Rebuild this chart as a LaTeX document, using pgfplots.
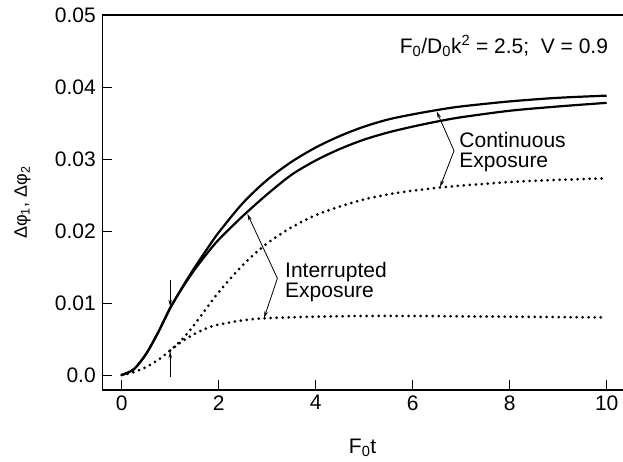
\documentclass[border=0pt]{standalone}
\usepackage{fontspec}
\setmainfont{Liberation Sans}
\usepackage{pgfplots}
\pgfplotsset{compat=1.18}
\usetikzlibrary{arrows.meta}
\begin{document}
\begin{tikzpicture}
\begin{axis}[
  at={(0,0)}, anchor=south west,
  scale only axis, width=520.7pt, height=375pt,
  xmin=-0.4, xmax=10.336, ymin=-0.00208, ymax=0.05,
  axis x line*=box, axis y line*=left,
  axis line style={line width=1.2pt,-},
  xtick={0,2,4,6,8,10},
  ytick={0,0.01,0.02,0.03,0.04,0.05},
  yticklabels={0.0,0.01,0.02,0.03,0.04,0.05},
  scaled y ticks=false,
  xtick pos=bottom, ytick pos=left,
  tick align=inside,
  major tick length=10pt,
  tick style={line width=1pt, black},
  ticklabel style={font=\fontsize{21}{24}\selectfont},
  yticklabel style={xshift=-3pt},
  xticklabel style={yshift=-2pt},
  /pgf/number format/assume math mode=true,
  xlabel={F\textsubscript{0}t},
  ylabel={Δφ\textsubscript{1}, Δφ\textsubscript{2}},
  xlabel style={at={(axis description cs:0.5,-0.168)}, anchor=base, font=\fontsize{21}{25}\selectfont},
  ylabel style={at={(axis description cs:-0.153,0.5)}, anchor=center, font=\fontsize{18}{22}\selectfont},
  clip=false,
]
% continuous exposure, solid
\addplot[black, line width=2.2pt, smooth, tension=0.5] coordinates {
(0,0) (0.25,0.0008) (0.5,0.0029) (0.75,0.0059) (1.0,0.0093) (1.25,0.0122) (1.5,0.0149) (1.75,0.0174) (2.0,0.0198) (2.5,0.0239) (3.0,0.0271) (3.5,0.0296) (4.0,0.0316) (4.5,0.0332) (5.0,0.0345) (5.5,0.0355) (6.0,0.0362) (6.5,0.0368) (7.0,0.0373) (8.0,0.0380) (9.0,0.0385) (10.0,0.0388)};
% interrupted exposure, solid
\addplot[black, line width=2.2pt, smooth, tension=0.5] coordinates {
(0,0) (0.25,0.0008) (0.5,0.0029) (0.75,0.0059) (1.0,0.0093) (1.25,0.0121) (1.5,0.0146) (1.75,0.0168) (2.0,0.0188) (2.5,0.0221) (3.0,0.0251) (3.5,0.0278) (4.0,0.0298) (4.5,0.0314) (5.0,0.0327) (5.5,0.0337) (6.0,0.0345) (6.5,0.0352) (7.0,0.0358) (8.0,0.0367) (9.0,0.0373) (10.0,0.0378)};
% continuous exposure, dotted
\addplot[black, line width=3pt, line cap=round, dash pattern=on 0pt off 6pt, smooth, tension=0.5] coordinates {
(0,0) (0.25,0.0004) (0.5,0.0011) (0.75,0.0021) (1.0,0.0034) (1.25,0.0050) (1.5,0.0070) (1.75,0.0093) (2.0,0.0115) (2.5,0.0153) (3.0,0.0183) (3.5,0.0205) (4.0,0.0222) (4.5,0.0234) (5.0,0.0244) (5.5,0.0251) (6.0,0.0256) (6.5,0.0260) (7.0,0.0263) (8.0,0.0268) (9.0,0.0271) (9.9,0.0273)};
% interrupted exposure, dotted
\addplot[black, line width=3pt, line cap=round, dash pattern=on 0pt off 6pt, smooth, tension=0.5] coordinates {
(1.0,0.0034) (1.25,0.0047) (1.5,0.0057) (1.75,0.0065) (2.0,0.0070) (2.5,0.0076) (3.0,0.0079) (4.0,0.0081) (5.0,0.0082) (6.0,0.0082) (8.0,0.0081) (9.9,0.0080)};

\node[anchor=base east, inner sep=0pt, font=\fontsize{21}{25}\selectfont] at (axis cs:10.03,0.0447) {F\textsubscript{0}/D\textsubscript{0}k\textsuperscript{2} = 2.5;\ \ V = 0.9};
\node[anchor=north west, inner sep=0pt, align=left, font=\fontsize{21}{20}\selectfont] at (axis cs:6.96,0.0338) {Continuous\\Exposure};
\node[anchor=north west, inner sep=0pt, align=left, font=\fontsize{21}{20}\selectfont] at (axis cs:3.367,0.0157) {Interrupted\\Exposure};

\draw[line width=0.8pt, -{Stealth[length=7pt,width=3.5pt]}] (axis cs:6.852,0.03115) -- (axis cs:6.495,0.0366);
\draw[line width=0.8pt, -{Stealth[length=7pt,width=3.5pt]}] (axis cs:6.852,0.03115) -- (axis cs:6.563,0.0261);
\draw[line width=0.8pt, -{Stealth[length=7pt,width=3.5pt]}] (axis cs:3.21,0.01343) -- (axis cs:2.59,0.0224);
\draw[line width=0.8pt, -{Stealth[length=7pt,width=3.5pt]}] (axis cs:3.21,0.01343) -- (axis cs:2.934,0.0079);
\draw[line width=0.8pt, -{Stealth[length=7pt,width=3.5pt]}] (axis cs:1,0.0132) -- (axis cs:1,0.0095);
\draw[line width=0.8pt, -{Stealth[length=7pt,width=3.5pt]}] (axis cs:1,-0.0003) -- (axis cs:1,0.0033);
\end{axis}
\pgfresetboundingbox
\path (-102.3pt,-71pt) rectangle (520.7pt,390pt);
\end{tikzpicture}
\end{document}
